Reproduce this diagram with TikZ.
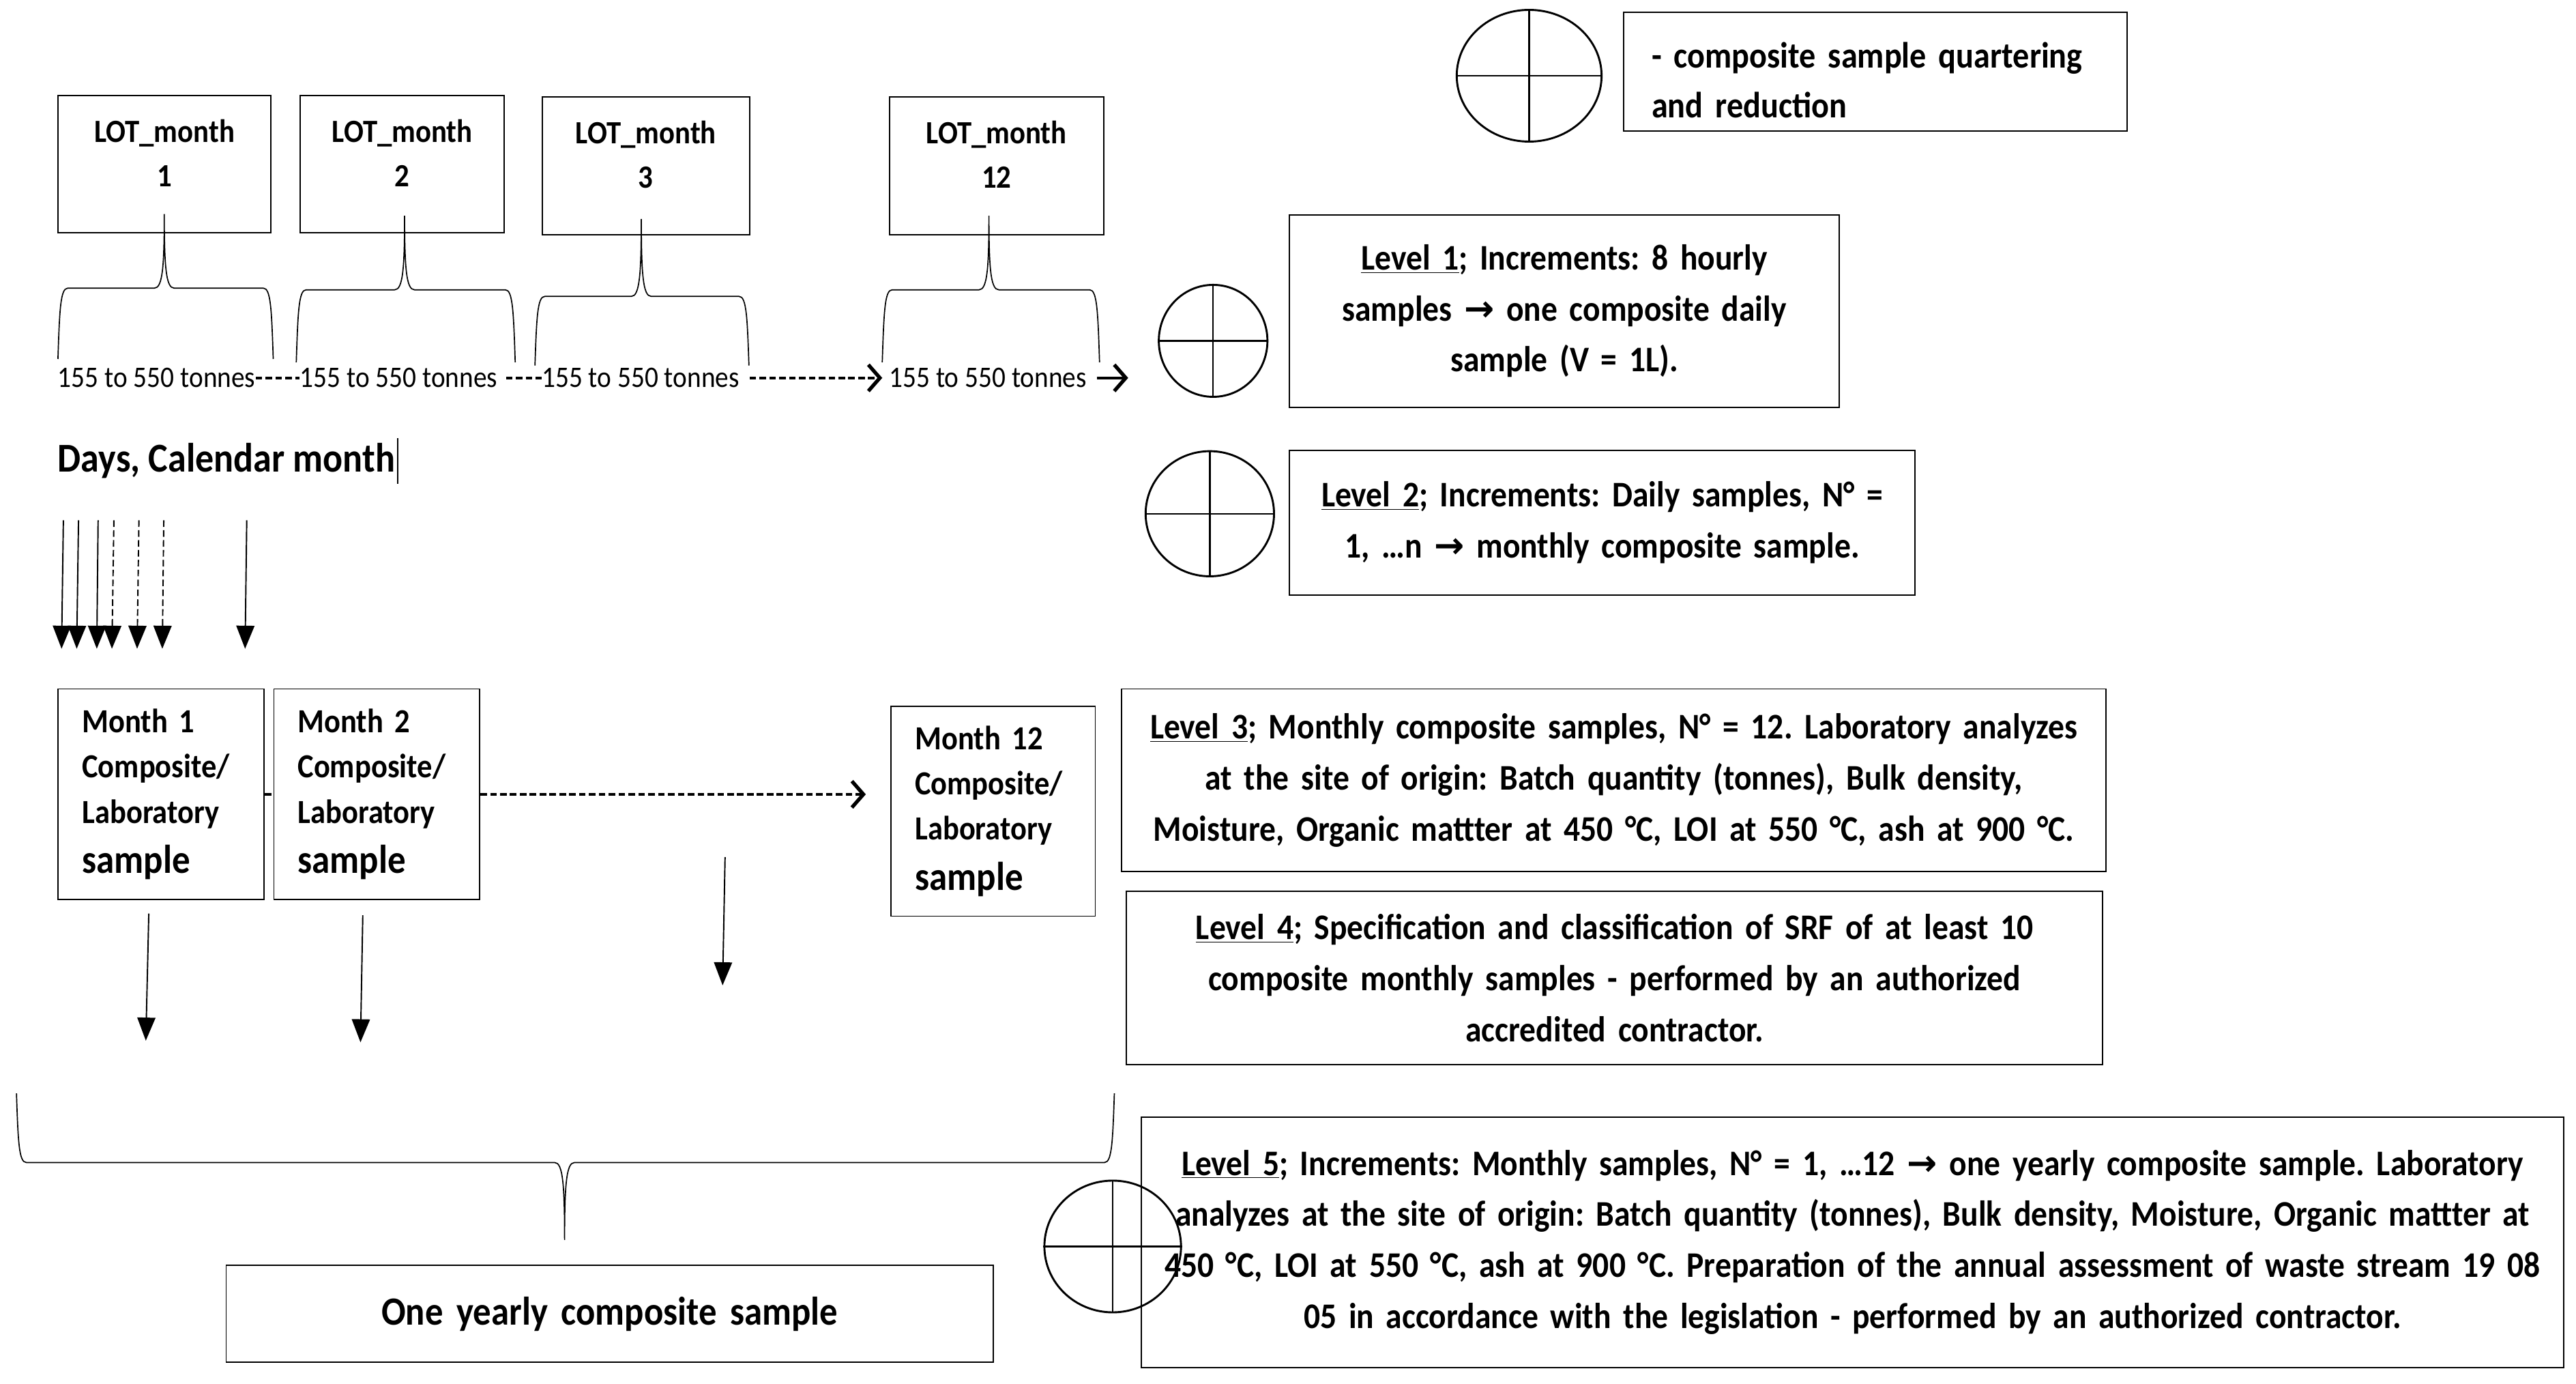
\documentclass[tikz,border=0pt]{standalone}
\usepackage{fontspec}
\setmainfont{Carlito}[FakeStretch=0.9]
\newfontfamily\arrowfont{DejaVu Sans}
\usetikzlibrary{arrows.meta, shapes.geometric}
\frenchspacing

\newcommand\rarr{{\arrowfont →}}
% curly brace: x0, x1, tip x, bar y, end y, tip y
\newcommand\lotbrace[6]{%
  \draw[brace] (#1,#5) .. controls (#1+1,{#4+0.3*(#5-#4)}) and (#1+1.5,#4) .. (#1+6,#4)
    -- (#3-6,#4) .. controls (#3-1,#4) and (#3,{#4+0.3*(#6-#4)}) .. (#3,#6)
    .. controls (#3,{#4+0.3*(#6-#4)}) and (#3+1,#4) .. (#3+6,#4)
    -- (#2-6,#4) .. controls (#2-1.5,#4) and (#2-1,{#4+0.3*(#5-#4)}) .. (#2,#5);}

\begin{document}
\begin{tikzpicture}[x=1pt, y=-1pt,
    box/.style = {draw, line width=0.8pt, anchor=north west, inner sep=0pt, align=center},
    lotbox/.style = {box, font=\bfseries\fontsize{19.7}{27}\selectfont},
    levelbox/.style = {box, font=\bfseries\fontsize{21.9}{31}\selectfont},
    monthbox/.style = {box, align=left, inner xsep=14.5pt, text width=96pt, font=\bfseries\fontsize{20.5}{27.5}\selectfont},
    tonnes/.style = {anchor=west, inner sep=0pt, font=\fontsize{18.1}{20}\selectfont},
    quarter/.style = {draw, ellipse, line width=1.2pt, inner sep=0pt},
    brace/.style = {line width=0.7pt},
    daydrop/.style = {line width=0.8pt, -{Triangle[length=14pt, width=11pt]}},
    daydash/.style = {dash pattern=on 4pt off 2pt},
    dashline/.style = {line width=1.5pt, dash pattern=on 4pt off 2pt},
    barb/.style = {-{Straight Barb[length=7pt, width=16pt, line width=2.2pt]}}]

\useasboundingbox (0,0) rectangle (1565,840.5);

% legend
\node[quarter, minimum width=88pt, minimum height=80pt] (c0) at (929,46) {};
\node[box, align=left, inner xsep=17pt, text width=272pt, minimum height=72pt,
      font=\bfseries\fontsize{22.2}{30}\selectfont] (legend) at (986,7)
      {\mbox{}\\[-4pt]- composite sample quartering\\and reduction};

% lots of the months
\node[lotbox, minimum width=129pt, minimum height=83.4pt] (lot1) at (35,57.6) {LOT\_month\\1\\[-13.4pt]\mbox{}};
\node[lotbox, minimum width=124pt, minimum height=83.4pt] (lot2) at (182,57.6) {LOT\_month\\2\\[-13.4pt]\mbox{}};
\node[lotbox, minimum width=126pt, minimum height=83.5pt] (lot3) at (329,58.5) {LOT\_month\\3\\[-13.4pt]\mbox{}};
\node[lotbox, minimum width=130pt, minimum height=83.5pt] (lot12) at (540,58.5) {LOT\_month\\12\\[-13.4pt]\mbox{}};

\lotbrace{35.2}{166}{99.8}{175}{218}{130}
\lotbrace{180}{313}{245.8}{176}{220}{131}
\lotbrace{325}{455}{389.6}{180}{222}{133}
\lotbrace{536}{668}{600.8}{176}{220}{131}

\node[tonnes] (t1) at (35,229.5) {155 to 550 tonnes};
\node[tonnes] (t2) at (182,229.5) {155 to 550 tonnes};
\node[tonnes] (t3) at (329,229.5) {155 to 550 tonnes};
\node[tonnes] (t4) at (540,229.5) {155 to 550 tonnes};

% level 1 and 2
\node[quarter, minimum width=66pt, minimum height=68pt] (c1) at (737,207) {};
\node[levelbox, text width=334pt, minimum height=117pt] (lv1) at (783,130)
      {\underline{Level 1}; Increments: 8 hourly\\samples \rarr{} one composite daily\\sample (V = 1L).};
\node[quarter, minimum width=78pt, minimum height=76pt] (c2) at (735,312) {};
\node[levelbox, text width=380pt, minimum height=88pt] (lv2) at (783,273)
      {\underline{Level 2}; Increments: Daily samples, N° =\\1, …n \rarr{} monthly composite sample.};

\draw[dashline] (t1.east) -- (t2.west);
\draw[dashline, shorten <=5pt] (t2.east) -- (t3.west);
\draw[dashline, barb, shorten <=6pt, shorten >=4pt] (t3.east) -- (t4.west);
\draw[line width=1.5pt, barb, shorten <=6pt, shorten >=18pt] (t4.east) -- (t4.east -| c1.west);

% days of the month
\node[anchor=west, inner sep=0pt, font=\bfseries\fontsize{24.9}{28}\selectfont] (days) at (35,280) {Days, Calendar month};
\draw[line width=0.6pt] ([xshift=1.5pt, yshift=14pt]days.east) -- ([xshift=1.5pt, yshift=-14pt]days.east);

\foreach \xa/\xb/\ls in {38.5/37.4/solid, 47.7/46.6/solid, 59.6/58.8/solid, 69.2/68/daydash,
                         84.4/83.3/daydash, 99.5/98.6/daydash, 149.9/148.9/solid}
  \draw[daydrop, \ls] (\xa,316) -- (\xb,394);

% monthly samples
\node[monthbox, minimum height=128pt] (m1) at (35,418)
      {Month 1\\Composite/\\Laboratory\\[3pt]{\fontsize{24.4}{28}\selectfont sample}};
\node[monthbox, minimum height=128pt] (m2) at (166,418)
      {Month 2\\Composite/\\Laboratory\\[3pt]{\fontsize{24.4}{28}\selectfont sample}};
\node[monthbox, text width=95pt, minimum height=127.5pt] (m12) at (541,428.5)
      {Month 12\\Composite/\\Laboratory\\[3pt]{\fontsize{24.4}{28}\selectfont sample}};

\draw[dashline] (m1) -- (m2);
\draw[dashline, barb, shorten >=15pt] (m2) -- (m2 -| m12.west);

\coordinate (y1) at (88.6,632);
\coordinate (y2) at (219,633);
\coordinate (s3) at (440.5,520.5);
\coordinate (y3) at (439,598.4);
\draw[daydrop] ([xshift=-7.5pt, yshift=-8pt]m1.south) -- (y1);
\draw[daydrop] ([xshift=-8.5pt, yshift=-9pt]m2.south) -- (y2);
\draw[daydrop] (s3) -- (y3);

% level 3 and 4
\node[levelbox, text width=598pt, minimum height=111pt] (lv3) at (681,418)
      {\underline{Level 3}; Monthly composite samples, N° = 12. Laboratory analyzes\\at the site of origin: Batch quantity (tonnes), Bulk density,\\Moisture, Organic mattter at 450 °C, LOI at 550 °C, ash at 900 °C.};
\node[levelbox, text width=593pt, minimum height=105pt] (lv4) at (684,541)
      {\underline{Level 4}; Specification and classification of SRF of at least 10\\composite monthly samples - performed by an authorized\\accredited contractor.};

% yearly sample
\lotbrace{10}{677}{343}{706}{664}{753}
\node[box, text width=466pt, minimum height=59pt, font=\bfseries\fontsize{24.3}{28}\selectfont] (year) at (137,768)
      {One yearly composite sample};

% level 5
\node[levelbox, text width=864pt, minimum height=152pt] (lv5) at (693,678)
      {\underline{Level 5}; Increments: Monthly samples, N° = 1, …12 \rarr{} one yearly composite sample. Laboratory\\analyzes at the site of origin: Batch quantity (tonnes), Bulk density, Moisture, Organic mattter at\\450 °C, LOI at 550 °C, ash at 900 °C. Preparation of the annual assessment of waste stream 19 08\\05 in accordance with the legislation - performed by an authorized contractor.};
\node[quarter, minimum width=83pt, minimum height=80pt] (c5) at (676,757) {};

\foreach \c in {c0,c1,c2,c5}
  \draw[line width=1pt] (\c.north) -- (\c.south) (\c.west) -- (\c.east);
\end{tikzpicture}
\end{document}
